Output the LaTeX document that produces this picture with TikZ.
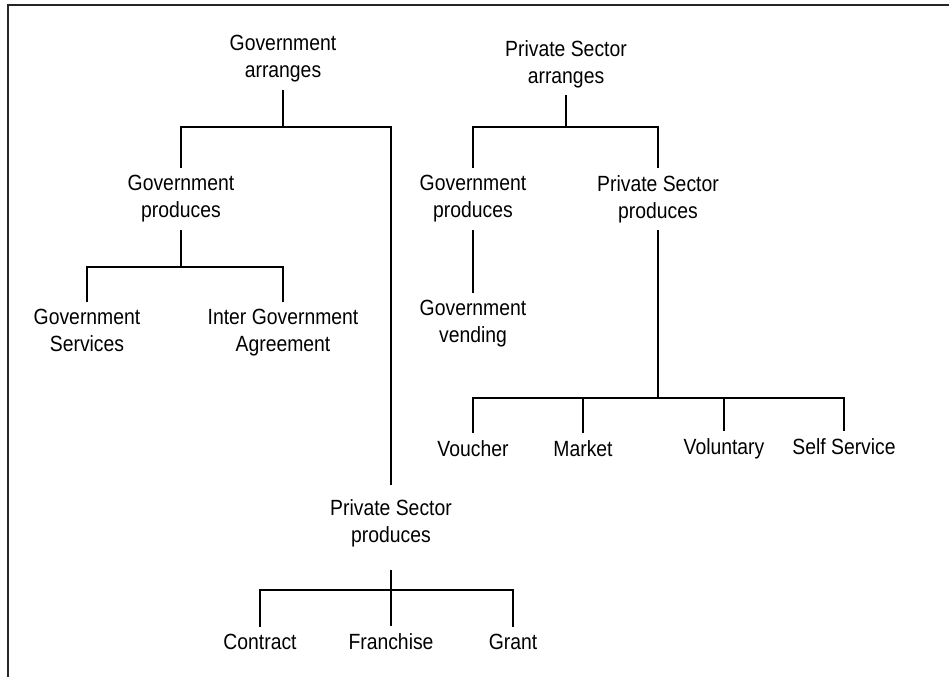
\documentclass[tikz,border=0pt]{standalone}
\usepackage{fontspec}
\setmainfont[FakeStretch=0.88]{Liberation Sans}
\begin{document}
\begin{tikzpicture}[x=1pt,y=-1pt,line width=1.4pt,
    lbl/.style={align=center,inner xsep=0pt,inner ysep=7pt,font=\fontsize{22}{27}\selectfont}]
\useasboundingbox (0,0) rectangle (949,677);
\draw[black!85,line width=1.6pt] (8,677)--(8,5)--(949,5);
% government arranges
\node[lbl] (garr) at (283,59) {Government\\arranges};
\node[lbl] (lgprod) at (181,199) {Government\\produces};
\node[lbl,inner ysep=14pt] (lpsprod) at (391,523) {Private Sector\\produces};
\node[lbl] (gserv) at (87,330.5) {Government\\Services};
\node[lbl] (igov) at (283,333) {Inter Government\\Agreement};
\node[lbl] (contract) at (260,642) {Contract};
\node[lbl] (franchise) at (391,642) {Franchise};
\node[lbl] (grant) at (513,642) {Grant};
\coordinate (b1) at (283,127);
\coordinate (b2) at (181,267);
\coordinate (b3) at (391,590);
\draw (garr) -- (b1);
\draw (lgprod) |- (b1) -| (lpsprod);
\draw (lgprod) -- (b2);
\draw (gserv) |- (b2) -| (igov);
\draw[shorten <=9pt] (lpsprod) -- (franchise);
\draw (contract) |- (b3) -| (grant);
% private sector arranges
\node[lbl] (parr) at (566,64) {Private Sector\\arranges};
\node[lbl] (rgprod) at (473,199) {Government\\produces};
\node[lbl] (rpsprod) at (658,199) {Private Sector\\produces};
\node[lbl] (gvend) at (473,324) {Government\\vending};
\node[lbl] (voucher) at (473,449) {Voucher};
\node[lbl] (market) at (583,449) {Market};
\node[lbl] (voluntary) at (724,449) {Voluntary};
\node[lbl] (selfserv) at (844,447) {Self Service};
\coordinate (b4) at (566,127);
\coordinate (b5) at (658,398);
\draw (parr) -- (b4);
\draw (rgprod) |- (b4) -| (rpsprod);
\draw (rgprod) -- (gvend);
\draw (rpsprod) -- (b5);
\draw (voucher) |- (b5) -| (selfserv);
\draw (market) -- (market |- b5);
\draw (voluntary) -- (voluntary |- b5);
\end{tikzpicture}
\end{document}
